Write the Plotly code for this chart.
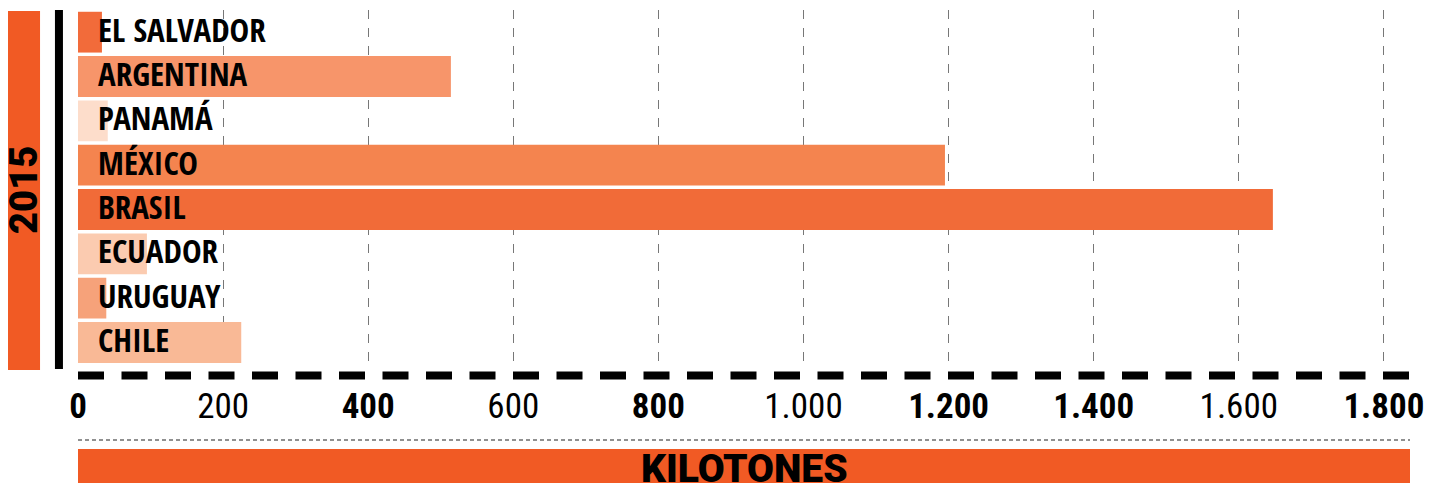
import plotly.graph_objects as go

countries = ["EL SALVADOR", "ARGENTINA", "PANAMÁ", "MÉXICO", "BRASIL", "ECUADOR", "URUGUAY", "CHILE"]
kilotones = [33, 514, 41, 1195, 1647, 95, 39, 225]
bar_colors = ["#F26B3A", "#F7956A", "#FDDDCB", "#F4844F", "#F16B38", "#FBCBB0", "#F6A27A", "#F9B996"]

tick_values = [0, 200, 400, 600, 800, 1000, 1200, 1400, 1600, 1800]
tick_labels = ["<b>0</b>", "200", "<b>400</b>", "600", "<b>800</b>", "1.000",
               "<b>1.200</b>", "<b>1.400</b>", "1.600", "<b>1.800</b>"]
year = "2015"
unit = "KILOTONES"

ORANGE = "#F15A24"
NARROW = "Open Sans Condensed, Roboto Condensed, sans-serif"

fig = go.Figure()
fig.add_trace(go.Bar(x=kilotones, y=countries, orientation="h",
                     marker=dict(color=bar_colors, line_width=0),
                     hoverinfo="x+y"))

# country names written over the start of each bar
for name in countries:
    fig.add_annotation(x=0, y=name, xref="x", yref="y", text=name, showarrow=False,
                       xanchor="left", xshift=18, yshift=3,
                       font=dict(family=NARROW, size=33, color="black", weight="bold"))

# page body has an 8px margin, so the figure is 8px smaller and margins shifted
fig.update_layout(
    width=1427, height=475, autosize=False,
    margin=dict(l=70, r=25, t=2, b=113, pad=0),
    plot_bgcolor="white", paper_bgcolor="white",
    bargap=0.08, showlegend=False,
    xaxis=dict(range=[0, 1836], tickvals=tick_values, ticktext=tick_labels,
               showgrid=True, gridcolor="#777", griddash="dash", gridwidth=1,
               zeroline=False, showline=False, ticks="", automargin=False,
               ticklabelstandoff=12, ticklabeloverflow="allow",
               tickfont=dict(family="Roboto Condensed", size=35, color="black", weight=400)),
    yaxis=dict(categoryorder="array", categoryarray=countries, autorange="reversed",
               showticklabels=False, ticks="", automargin=False,
               showgrid=False, zeroline=False, showline=False),
)

# left year band + black rule
fig.add_shape(type="rect", xref="paper", yref="paper", x0=-0.0533, x1=-0.0285, y0=0, y1=0.997,
              fillcolor=ORANGE, line_width=0)
fig.add_shape(type="line", xref="paper", yref="paper", x0=-0.0143, x1=-0.0143, y0=0.003, y1=1,
              line=dict(color="black", width=8))
fig.add_annotation(text=year, xref="paper", yref="paper", x=-0.0406, y=0.5, textangle=-90,
                   xanchor="center", yanchor="middle", showarrow=False,
                   font=dict(family="Roboto", size=38, color="black", weight=900))

# dashed base line, thin separator and unit band
fig.add_shape(type="line", xref="paper", yref="paper", x0=0, x1=1, y0=-0.0155, y1=-0.0155,
              line=dict(color="black", width=8, dash="26px,17.5px"))
fig.add_shape(type="line", xref="paper", yref="paper", x0=0, x1=1, y0=-0.1944, y1=-0.1944,
              line=dict(color="#222", width=1.2, dash="4px,3px"))
fig.add_shape(type="rect", xref="paper", yref="paper", x0=0, x1=1, y0=-0.33, y1=-0.2195,
              fillcolor=ORANGE, line_width=0)
fig.add_annotation(text=unit, xref="paper", yref="paper", x=0.5, y=-0.205, yanchor="top",
                   showarrow=False, font=dict(family="Roboto", size=39, color="black", weight=900))

fig.write_html("out.html")
